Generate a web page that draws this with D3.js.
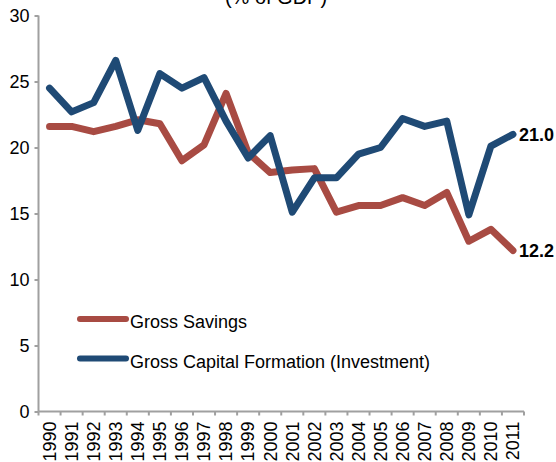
<!DOCTYPE html>
<html>
<head>
<script src="https://d3js.org/d3.v7.min.js"></script>
<style>
  body { margin: 0; background: #fff; }
  text { font-family: "Liberation Sans", Arial, Helvetica, sans-serif; }
</style>
</head>
<body>
<div id="chart"></div>
<script>
var years = ["1990","1991","1992","1993","1994","1995","1996","1997","1998","1999","2000",
             "2001","2002","2003","2004","2005","2006","2007","2008","2009","2010","2011"];
var grossSavings = [21.6, 21.6, 21.2, 21.6, 22.1, 21.8, 19.0, 20.2, 24.1, 19.6, 18.1,
                    18.3, 18.4, 15.1, 15.6, 15.6, 16.2, 15.6, 16.6, 12.9, 13.8, 12.2];
var grossInvestment = [24.5, 22.7, 23.4, 26.6, 21.3, 25.6, 24.5, 25.3, 22.0, 19.2, 20.9,
                       15.1, 17.7, 17.7, 19.5, 20.0, 22.2, 21.6, 22.0, 14.9, 20.1, 21.0];
var yTicks = [0, 5, 10, 15, 20, 25, 30];
var seriesNames = ["Gross Savings", "Gross Capital Formation (Investment)"];
var colors = ["#a84b43", "#1f4a75"];

var width = 556, height = 462;
var margin = {top: 15.5, right: 32, bottom: 50.5, left: 38.5};

var svg = d3.select("#chart").append("svg")
  .attr("width", width)
  .attr("height", height);

var x = d3.scaleBand()
  .domain(years)
  .range([margin.left, width - margin.right]);
var y = d3.scaleLinear()
  .domain([0, 30])
  .range([height - margin.bottom, margin.top]);

// title (second line, mostly off the top edge)
svg.append("text")
  .attr("x", 276)
  .attr("y", 4)
  .attr("text-anchor", "middle")
  .style("font-size", "20px")
  .text("(% of GDP)");

// y axis
var yAxis = svg.append("g")
  .attr("transform", "translate(" + margin.left + ",0)")
  .call(d3.axisLeft(y).tickValues(yTicks).tickSize(4).tickPadding(5));
yAxis.selectAll("path, line").attr("stroke", "#a0a0a0").attr("stroke-width", 2);
yAxis.select("path").attr("d", "M0," + y(0) + "V" + y(30));
yAxis.selectAll("text").style("font-size", "18px").attr("fill", "#000");

// x axis with ticks on band edges
var xAxis = svg.append("g")
  .attr("transform", "translate(0," + y(0) + ")");
xAxis.append("line")
  .attr("x1", margin.left).attr("x2", width - margin.right)
  .attr("stroke", "#a0a0a0").attr("stroke-width", 2);
xAxis.selectAll(".edge")
  .data(years.concat(["end"]))
  .enter().append("line")
  .attr("class", "edge")
  .attr("x1", function(d, i) { return margin.left + i * x.step(); })
  .attr("x2", function(d, i) { return margin.left + i * x.step(); })
  .attr("y1", 0).attr("y2", 4)
  .attr("stroke", "#a0a0a0").attr("stroke-width", 2);
xAxis.selectAll(".yr")
  .data(years)
  .enter().append("text")
  .attr("class", "yr")
  .attr("transform", function(d) {
    return "translate(" + (x(d) + x.bandwidth() / 2) + ",10) rotate(-90)";
  })
  .attr("text-anchor", "end")
  .attr("dy", "0.35em")
  .style("font-size", "18px")
  .text(function(d) { return d; });

var line = d3.line()
  .x(function(d, i) { return x(years[i]) + x.bandwidth() / 2; })
  .y(function(d) { return y(d); });

[grossSavings, grossInvestment].forEach(function(s, k) {
  svg.append("path")
    .datum(s)
    .attr("d", line)
    .attr("fill", "none")
    .attr("stroke", colors[k])
    .attr("stroke-width", 7)
    .attr("stroke-linejoin", "round")
    .attr("stroke-linecap", "round");

  var last = s.length - 1;
  svg.append("text")
    .attr("x", x(years[last]) + x.bandwidth() / 2 + 6)
    .attr("y", y(s[last]))
    .attr("dy", "0.35em")
    .style("font-size", "18px")
    .style("font-weight", "bold")
    .text(s[last].toFixed(1));
});

// legend
var legend = svg.append("g");
seriesNames.forEach(function(name, k) {
  var ly = 319 + k * 39.5;
  legend.append("line")
    .attr("x1", 80).attr("x2", 126)
    .attr("y1", ly).attr("y2", ly)
    .attr("stroke", colors[k])
    .attr("stroke-width", 6)
    .attr("stroke-linecap", "round");
  legend.append("text")
    .attr("x", 130)
    .attr("y", ly + 3)
    .attr("dy", "0.35em")
    .style("font-size", "18px")
    .text(name);
});
</script>
</body>
</html>
